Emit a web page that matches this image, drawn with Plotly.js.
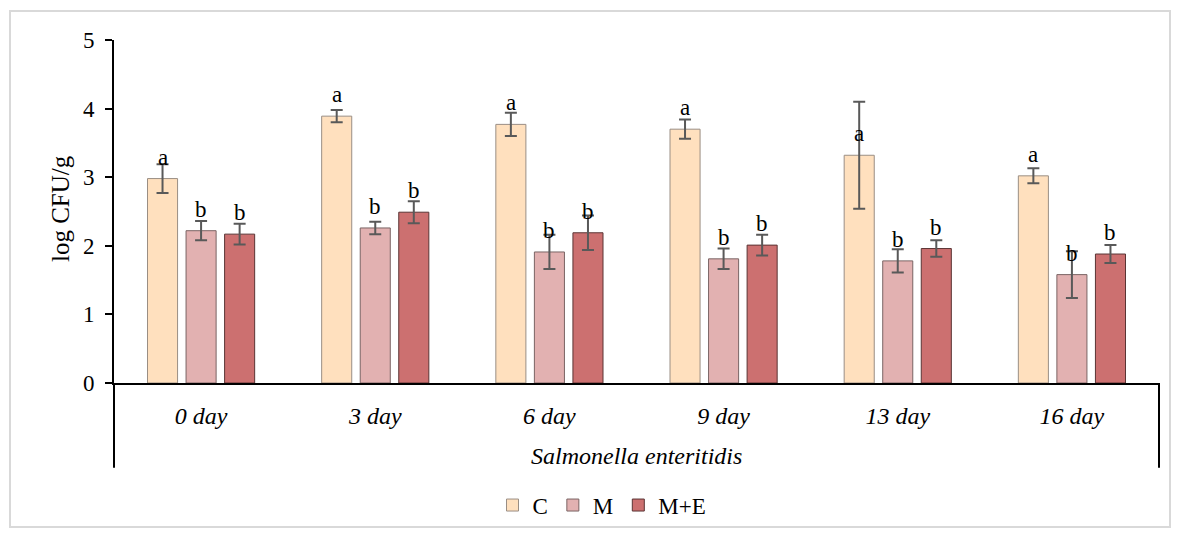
<!DOCTYPE html>
<html>
<head>
<meta charset="utf-8">
<script src="https://cdn.plot.ly/plotly-3.0.1.min.js"></script>
<style>
  html, body { margin: 0; padding: 0; background: #fff; }
  #wrap { position: relative; width: 1181px; height: 537px; }
  #chart { width: 1181px; height: 537px; }
  #frame { position: absolute; left: 9px; top: 10px; width: 1162px; height: 518px;
           border: 2px solid #d9d9d9; pointer-events: none; box-sizing: border-box; }
</style>
</head>
<body>
<div id="wrap">
  <div id="chart"></div>
  <div id="frame"></div>
</div>
<script>
const categories = ["0 day", "3 day", "6 day", "9 day", "13 day", "16 day"];
const seriesNames = ["C", "M", "M+E"];
const valuesC   = [2.98, 3.89, 3.77, 3.70, 3.32, 3.02];
const valuesM   = [2.22, 2.26, 1.91, 1.81, 1.78, 1.58];
const valuesME  = [2.17, 2.49, 2.19, 2.01, 1.96, 1.88];
const errC  = [0.21, 0.09, 0.17, 0.14, 0.78, 0.11];
const errM  = [0.14, 0.09, 0.25, 0.15, 0.17, 0.34];
const errME = [0.15, 0.16, 0.25, 0.15, 0.12, 0.13];
const lettersC  = ["a", "a", "a", "a", "a", "a"];
const lettersM  = ["b", "b", "b", "b", "b", "b"];
const lettersME = ["b", "b", "b", "b", "b", "b"];
const groupLabel = "Salmonella enteritidis";
const yTitle = "log CFU/g";

const colors = ["#FFE0BE", "#E2B1B1", "#CC7070"];
const edgeColors = ["#9a8e84", "#7a6464", "#5a3434"];
const fam = "'Liberation Serif', 'Times New Roman', serif";

const allValues = [valuesC, valuesM, valuesME];
const allErr = [errC, errM, errME];
const allLetters = [lettersC, lettersM, lettersME];

const traces = seriesNames.map((name, i) => ({
  type: "bar",
  name: name,
  x: categories,
  y: allValues[i],
  marker: { color: colors[i], line: { color: edgeColors[i], width: 1 } },
  error_y: { type: "data", array: allErr[i], visible: true, color: "#595959", thickness: 2, width: 6 },
  hoverinfo: "x+y+name"
}));

const slot = 38.5;
const annotations = [];
allLetters.forEach((arr, i) => {
  arr.forEach((t, j) => {
    annotations.push({
      x: categories[j], y: allValues[i][j], xref: "x", yref: "y",
      text: t, showarrow: false, xshift: (i - 1) * slot,
      yanchor: "bottom", yshift: 7,
      font: { family: fam, size: 23, color: "#000" }
    });
  });
});
annotations.push({
  x: 0.5, y: -0.212, xref: "paper", yref: "paper", text: "<i>" + groupLabel + "</i>",
  showarrow: false, yanchor: "middle",
  font: { family: fam, size: 24, color: "#000" }
});
annotations.push({
  x: -0.0517, y: 0.51, xref: "paper", yref: "paper", text: yTitle,
  showarrow: false, textangle: -90, xanchor: "center", yanchor: "middle",
  font: { family: fam, size: 25, color: "#000" }
});

const layout = {
  width: 1181, height: 537,
  margin: { l: 114, r: 22, t: 40, b: 153 },
  font: { family: fam, size: 23, color: "#000" },
  paper_bgcolor: "rgba(0,0,0,0)", plot_bgcolor: "#fff",
  barmode: "group", bargap: 0.336, bargroupgap: 0.22,
  showlegend: true,
  legend: {
    orientation: "h", x: 0.467, xanchor: "center", y: -0.352, yanchor: "middle",
    font: { family: fam, size: 23, color: "#000" }, itemwidth: 30, tracegroupgap: 0
  },
  xaxis: {
    type: "category", showline: true, linecolor: "#000", linewidth: 2,
    ticks: "", showgrid: false, zeroline: false,
    tickfont: { family: fam, size: 24, color: "#000", style: "italic" },
    ticklabelstandoff: 10
  },
  yaxis: {
    range: [0, 5], dtick: 1, showline: true, linecolor: "#000", linewidth: 2,
    ticks: "outside", ticklen: 7, tickwidth: 2, tickcolor: "#000",
    showgrid: false, zeroline: false,
    tickfont: { family: fam, size: 23, color: "#000" },
    ticklabelstandoff: 6
  },
  annotations: annotations,
  shapes: [
    { type: "line", xref: "paper", yref: "paper", x0: 0, x1: 0, y0: 0, y1: -0.247, line: { color: "#000", width: 2 } },
    { type: "line", xref: "paper", yref: "paper", x0: 1, x1: 1, y0: 0, y1: -0.247, line: { color: "#000", width: 2 } }
  ]
};

Plotly.newPlot("chart", traces, layout, { displayModeBar: false, staticPlot: true });
</script>
</body>
</html>
